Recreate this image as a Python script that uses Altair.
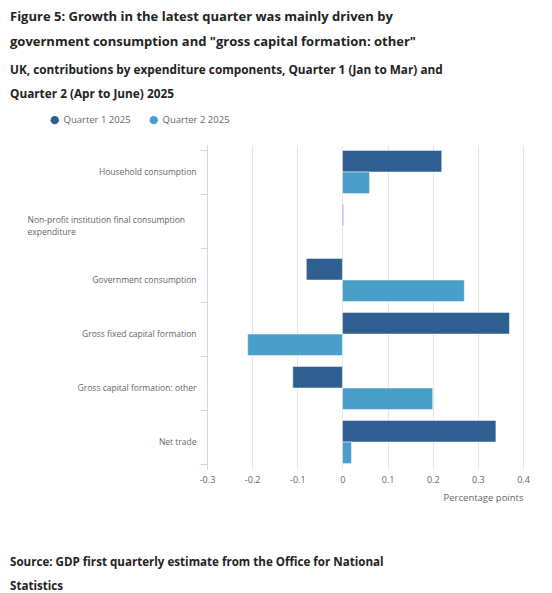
import altair as alt
import pandas as pd

categories = [
    "Household consumption",
    "Non-profit institution final consumption expenditure",
    "Government consumption",
    "Gross fixed capital formation",
    "Gross capital formation: other",
    "Net trade",
]
series = ["Quarter 1 2025", "Quarter 2 2025"]
q1_values = [0.22, 0.002, -0.08, 0.37, -0.11, 0.34]
q2_values = [0.06, 0.001, 0.27, -0.21, 0.20, 0.02]
colors = ["#2f5f91", "#4a9fca"]
x_ticks = [-0.3, -0.2, -0.1, 0, 0.1, 0.2, 0.3, 0.4]

title_lines = [
    "Figure 5: Growth in the latest quarter was mainly driven by",
    "government consumption and \"gross capital formation: other\"",
]
subtitle_lines = [
    "UK, contributions by expenditure components, Quarter 1 (Jan to Mar) and",
    "Quarter 2 (Apr to June) 2025",
]
source_lines = [
    "Source: GDP first quarterly estimate from the Office for National",
    "Statistics",
]

rows = []
for c, a, b in zip(categories, q1_values, q2_values):
    rows.append({"category": c, "series": series[0], "value": a})
    rows.append({"category": c, "series": series[1], "value": b})
df = pd.DataFrame(rows)

NP = categories[1]
FONT = "Open Sans"
is_np = "datum.value == '" + NP + "'"

bars = alt.Chart(df).mark_bar(stroke="white", strokeWidth=0.5).encode(
    x=alt.X(
        "value:Q",
        scale=alt.Scale(domain=[-0.3, 0.4], nice=False),
        axis=alt.Axis(
            values=x_ticks,
            format=".1~f",
            labelExpr="replace(datum.label, '\u2212', '-')",
            labelFlush=False,
            title="Percentage points",
            titleAnchor="end",
            titleAlign="right",
            titleFont=FONT,
            titleFontSize=9.5,
            titleFontWeight="normal",
            titleColor="#666666",
            titlePadding=8,
            labelFont=FONT,
            labelFontSize=9,
            labelColor="#666666",
            labelPadding=6,
            domain=False,
            ticks=False,
            grid=True,
            gridColor="#e6e6e6",
            gridWidth=1,
        ),
    ),
    y=alt.Y(
        "category:N",
        sort=categories,
        scale=alt.Scale(paddingInner=0.2, paddingOuter=0.1),
        axis=alt.Axis(
            title=None,
            labelExpr=(
                is_np + " ? "
                "['Non-profit institution final consumption', 'expenditure'] : datum.label"
            ),
            labelFont=FONT,
            labelFontSize=8.5,
            labelColor="#666666",
            labelLineHeight=12,
            labelLimit=300,
            labelAlign={"condition": {"test": is_np, "value": "left"}, "value": "right"},
            labelPadding={"condition": {"test": is_np, "value": 173}, "value": 4},
            labelOffset={"condition": {"test": is_np, "value": -7}, "value": -1},
            tickBand="extent",
            tickSize=7,
            tickColor="#ccd6eb",
            domainColor="#ccd6eb",
            grid=False,
        ),
    ),
    yOffset=alt.YOffset("series:N", sort=series),
    color=alt.Color(
        "series:N",
        sort=series,
        scale=alt.Scale(domain=series, range=colors),
        legend=alt.Legend(
            title=None,
            orient="none",
            direction="horizontal",
            legendX=-157,
            legendY=-30,
            padding=0,
            symbolType="circle",
            symbolSize=70,
            symbolStrokeWidth=0,
            labelFont=FONT,
            labelFontSize=9.5,
            labelColor="#666666",
            labelOffset=4,
            columnPadding=18,
        ),
    ),
)

src_df = pd.DataFrame({"text": ["\n".join(source_lines)]})
source = alt.Chart(src_df).mark_text(
    align="left",
    baseline="middle",
    font=FONT,
    fontSize=11.6,
    fontWeight="bold",
    color="#222222",
    lineBreak="\n",
    lineHeight=24,
).encode(
    text="text:N",
    x=alt.value(-197),
    y=alt.value(418),
)

chart = alt.layer(bars, source).properties(
    width=316,
    height=324,
    autosize=alt.AutoSizeParams(type="none"),
    padding={"left": 199, "top": 137, "right": 21, "bottom": 124},
    title=alt.TitleParams(
        text=title_lines,
        subtitle=subtitle_lines,
        anchor="start",
        frame="group",
        dx=-197,
        font=FONT,
        fontSize=13,
        fontWeight="bold",
        color="#222222",
        lineHeight=25,
        subtitleFont=FONT,
        subtitleFontSize=11.8,
        subtitleFontWeight="bold",
        subtitleColor="#222222",
        subtitleLineHeight=24,
        subtitlePadding=16,
        offset=14,
    ),
).configure_view(stroke=None)

chart.save("out.html", embed_options={"renderer": "svg", "actions": False})
